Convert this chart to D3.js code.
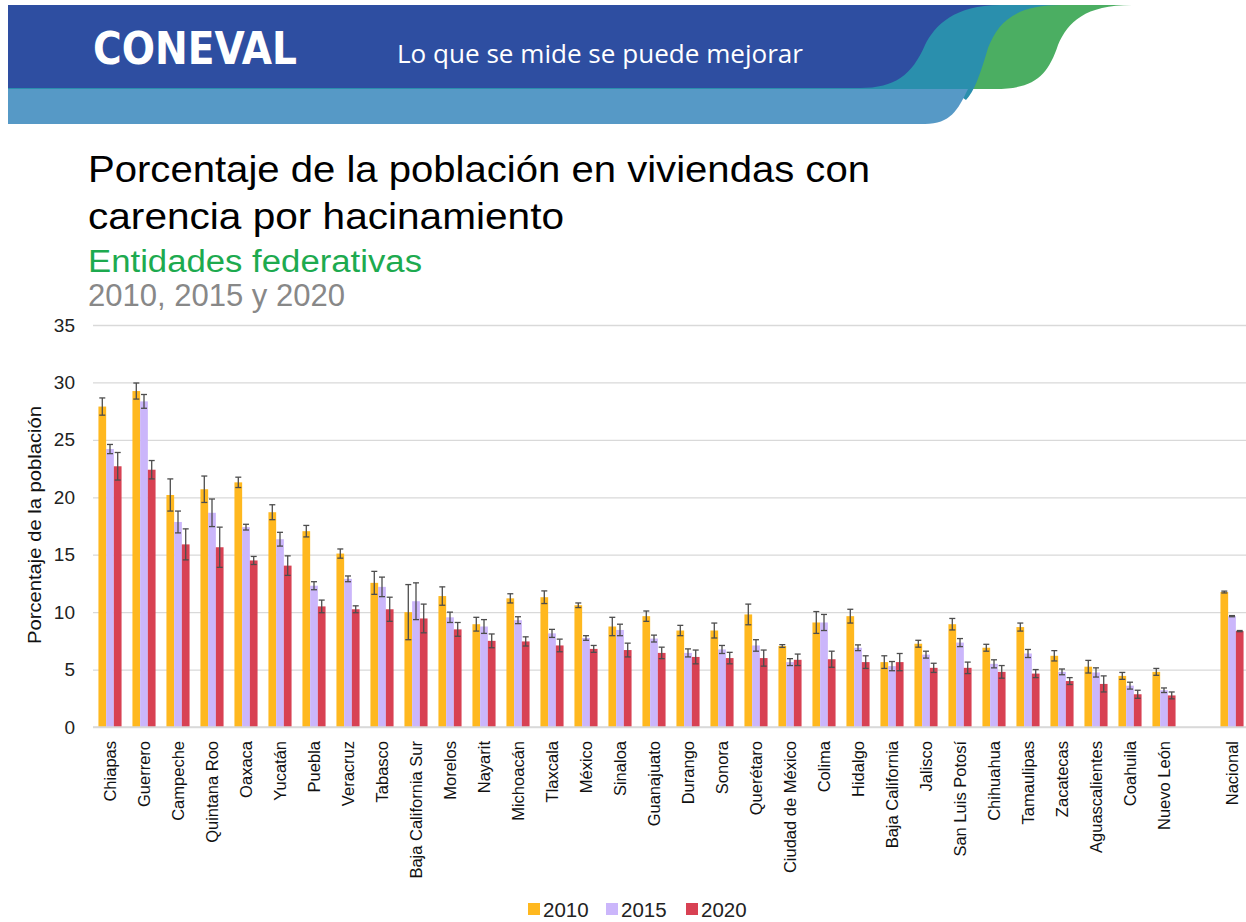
<!DOCTYPE html>
<html>
<head>
<meta charset="utf-8">
<script src="https://cdn.jsdelivr.net/npm/d3@7"></script>
<style>
  body { margin: 0; background: #fff; }
  svg { display: block; font-family: "Liberation Sans", Arial, sans-serif; }
</style>
</head>
<body>
<div class="chart"></div>
<script>
var svgWidth = 1246;
var svgHeight = 922;

// data
var states = ["Chiapas", "Guerrero", "Campeche", "Quintana Roo", "Oaxaca", "Yucatán", "Puebla",
  "Veracruz", "Tabasco", "Baja California Sur", "Morelos", "Nayarit", "Michoacán", "Tlaxcala",
  "México", "Sinaloa", "Guanajuato", "Durango", "Sonora", "Querétaro", "Ciudad de México",
  "Colima", "Hidalgo", "Baja California", "Jalisco", "San Luis Potosí", "Chihuahua",
  "Tamaulipas", "Zacatecas", "Aguascalientes", "Coahuila", "Nuevo León", "", "Nacional"];
var years = ["2010", "2015", "2020"];
var yearColors = ["#FFB81F", "#CBB6FB", "#D84153"];

var v2010 = [27.9, 29.25, 20.2, 20.7, 21.3, 18.7, 17.05, 15.1, 12.55, 10.0, 11.4, 8.95, 11.2, 11.3,
  10.6, 8.75, 9.65, 8.4, 8.4, 9.8, 7.05, 9.1, 9.65, 5.65, 7.25, 8.95, 6.9, 8.7, 6.2, 5.25, 4.45, 4.8, null, 11.75];
var v2015 = [24.2, 28.35, 17.85, 18.65, 17.4, 16.35, 12.3, 12.9, 12.2, 10.95, 9.55, 8.75, 9.3, 8.15,
  7.75, 8.45, 7.7, 6.45, 6.75, 7.1, 5.65, 9.1, 6.9, 5.3, 6.3, 7.35, 5.5, 6.4, 4.8, 4.75, 3.6, 3.2, null, 9.65];
var v2020 = [22.7, 22.4, 15.9, 15.65, 14.5, 14.05, 10.5, 10.25, 10.25, 9.45, 8.5, 7.5, 7.45, 7.1,
  6.8, 6.7, 6.45, 6.1, 6.0, 6.0, 5.85, 5.9, 5.65, 5.65, 5.15, 5.15, 4.8, 4.65, 4.0, 3.75, 2.85, 2.75, null, 8.35];

// half-width of the error bars
var e2010 = [0.75, 0.7, 1.4, 1.15, 0.45, 0.65, 0.5, 0.4, 1.0, 2.4, 0.8, 0.6, 0.4, 0.55,
  0.2, 0.8, 0.45, 0.45, 0.65, 0.9, 0.12, 0.95, 0.6, 0.55, 0.3, 0.5, 0.3, 0.35, 0.45, 0.55, 0.3, 0.3, null, 0.08];
var e2015 = [0.4, 0.6, 0.95, 1.2, 0.25, 0.6, 0.35, 0.25, 0.85, 1.6, 0.45, 0.6, 0.3, 0.35,
  0.2, 0.5, 0.3, 0.35, 0.35, 0.5, 0.3, 0.7, 0.25, 0.4, 0.3, 0.35, 0.35, 0.35, 0.25, 0.4, 0.3, 0.2, null, 0.05];
var e2020 = [1.2, 0.8, 1.35, 1.75, 0.35, 0.85, 0.55, 0.3, 1.05, 1.25, 0.6, 0.6, 0.4, 0.55,
  0.3, 0.6, 0.5, 0.6, 0.5, 0.7, 0.5, 0.7, 0.55, 0.75, 0.4, 0.5, 0.55, 0.35, 0.3, 0.7, 0.35, 0.3, null, 0.05];

var yTicks = [0, 5, 10, 15, 20, 25, 30, 35];

var series = [v2010, v2015, v2020];
var errors = [e2010, e2015, e2020];

var svg = d3.select(".chart")
  .append("svg")
  .attr("width", svgWidth)
  .attr("height", svgHeight);

// ----- header banner -----
var header = svg.append("g");
header.append("path")
  .attr("d", "M8,5 H1132 C1085,5 1068,22 1058,45 C1048,75 1035,89 995,89 H8 Z")
  .attr("fill", "#4BAE62");
header.append("path")
  .attr("d", "M8,5 H1062 C1015,5 998,22 988,48 C980,75 974,92 966,100 L950,89 H8 Z")
  .attr("fill", "#2A8FAD");
header.append("path")
  .attr("d", "M8,89 H968 C958,110 950,124 925,124 H8 Z")
  .attr("fill", "#5699C6");
header.append("path")
  .attr("d", "M8,5 H1000 C955,5 935,25 925,45 C912,75 895,88 860,88 H8 Z")
  .attr("fill", "#2E4EA1");

header.append("text")
  .attr("x", 93)
  .attr("y", 64)
  .attr("textLength", 204)
  .attr("lengthAdjust", "spacingAndGlyphs")
  .style("font-family", "'DejaVu Sans Condensed', 'Liberation Sans Narrow', sans-serif")
  .style("font-weight", "bold")
  .style("font-size", "44px")
  .attr("fill", "#fff")
  .text("CONEVAL");

header.append("text")
  .attr("x", 397)
  .attr("y", 63)
  .attr("textLength", 406)
  .attr("lengthAdjust", "spacingAndGlyphs")
  .style("font-family", "'Open Sans', sans-serif")
  .style("font-size", "25px")
  .attr("fill", "#fff")
  .text("Lo que se mide se puede mejorar");

// ----- titles -----
function title(txt, x, yPos, size, color, len) {
  svg.append("text").attr("x", x).attr("y", yPos)
    .style("font-size", size + "px").attr("fill", color)
    .attr("textLength", len)
    .attr("lengthAdjust", "spacingAndGlyphs")
    .text(txt);
}
title("Porcentaje de la población en viviendas con", 88, 182, 37, "#000", 782);
title("carencia por hacinamiento", 88, 229, 37, "#000", 476);
title("Entidades federativas", 88, 272, 31, "#1DAA4F", 334);
title("2010, 2015 y 2020", 88, 306, 31, "#888", 257);

// ----- scales -----
var x0 = d3.scaleBand()
  .domain(d3.range(states.length))
  .range([93, 1249])
  .paddingInner(0.32)
  .paddingOuter(0.16);

var x1 = d3.scaleBand()
  .domain(d3.range(years.length))
  .range([0, x0.bandwidth()]);

var y = d3.scaleLinear()
  .domain([0, 35])
  .range([727, 325]);

// gridlines + y labels
var yAxis = d3.axisLeft(y).tickValues(yTicks).tickSize(-(1246 - 93)).tickPadding(18);
var yG = svg.append("g")
  .attr("transform", "translate(93,0)")
  .call(yAxis);
yG.select(".domain").remove();
yG.selectAll(".tick line").attr("stroke", "#d9d9d9").attr("stroke-width", 1.3);
yG.selectAll(".tick text")
  .style("font-size", "19px")
  .style("font-family", "'Liberation Sans', Arial, sans-serif")
  .attr("fill", "#222");

svg.append("text")
  .attr("transform", "translate(41,525) rotate(-90)")
  .attr("text-anchor", "middle")
  .style("font-size", "18px")
  .attr("textLength", 238)
  .attr("lengthAdjust", "spacingAndGlyphs")
  .attr("fill", "#111")
  .text("Porcentaje de la población");

// ----- bars -----
var groups = svg.selectAll(".grp")
  .data(states)
  .enter()
  .append("g")
  .attr("class", "grp")
  .attr("transform", (d, i) => `translate(${x0(i)},0)`);

years.forEach(function (yr, k) {
  groups.filter(d => d !== "").each(function (d) {
    var i = states.indexOf(d);
    d3.select(this).append("rect")
      .attr("x", x1(k))
      .attr("width", x1.bandwidth())
      .attr("y", y(series[k][i]))
      .attr("height", y(0) - y(series[k][i]))
      .attr("fill", yearColors[k]);
  });
});

// error bars
years.forEach(function (yr, k) {
  groups.filter(d => d !== "").each(function (d) {
    var i = states.indexOf(d);
    var v = series[k][i], e = errors[k][i];
    var cx = x1(k) + x1.bandwidth() / 2;
    var g = d3.select(this).append("g")
      .attr("stroke", "#4d4d4d")
      .attr("stroke-width", 1.3);
    g.append("line").attr("x1", cx).attr("x2", cx).attr("y1", y(v + e)).attr("y2", y(v - e));
    g.append("line").attr("x1", cx - 3).attr("x2", cx + 3).attr("y1", y(v + e)).attr("y2", y(v + e));
    g.append("line").attr("x1", cx - 3).attr("x2", cx + 3).attr("y1", y(v - e)).attr("y2", y(v - e));
  });
});

// baseline
svg.append("line")
  .attr("x1", 93).attr("x2", 1246)
  .attr("y1", y(0)).attr("y2", y(0))
  .attr("stroke", "#d9d9d9").attr("stroke-width", 1.5);

// x labels
var xAxis = d3.axisBottom(x0).tickSize(0).tickFormat(i => states[i]);
var xG = svg.append("g")
  .attr("transform", `translate(0,${y(0)})`)
  .call(xAxis);
xG.select(".domain").remove();
xG.selectAll(".tick text")
  .attr("transform", "rotate(-90)")
  .attr("text-anchor", "end")
  .attr("x", -14)
  .attr("y", 0)
  .attr("dy", "0.35em")
  .style("font-size", "16.5px")
  .style("font-family", "'Liberation Sans', Arial, sans-serif")
  .attr("fill", "#111");

// ----- legend -----
var legendX = [528, 606, 686];
var legend = svg.selectAll(".leg")
  .data(years)
  .enter()
  .append("g")
  .attr("class", "leg")
  .attr("transform", (d, i) => `translate(${legendX[i]},903)`);
legend.append("rect")
  .attr("width", 12).attr("height", 12)
  .attr("fill", (d, i) => yearColors[i]);
legend.append("text")
  .attr("x", 15).attr("y", 14)
  .style("font-size", "20.5px")
  .attr("fill", "#222")
  .text(d => d);
</script>
</body>
</html>
